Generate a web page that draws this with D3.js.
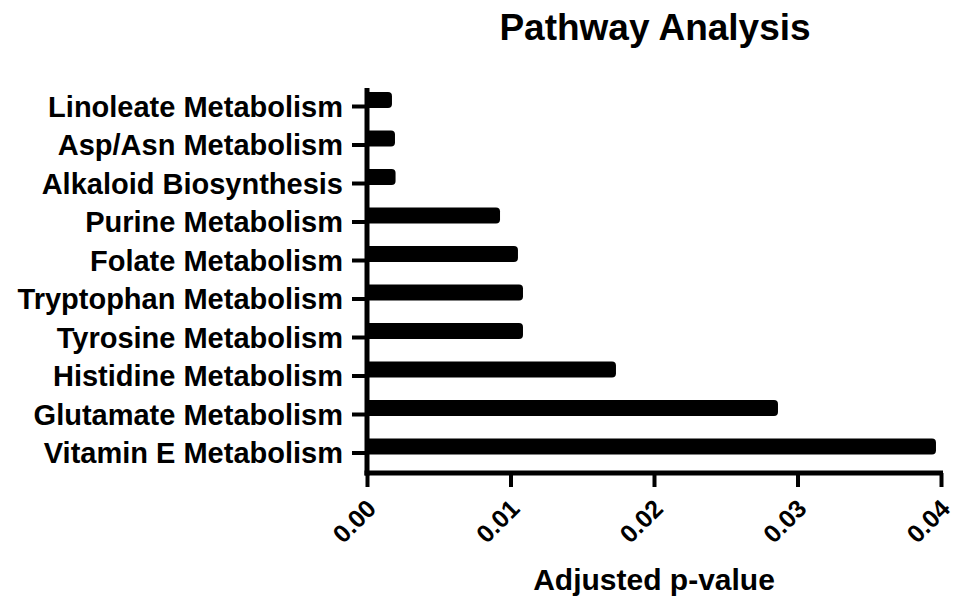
<!DOCTYPE html>
<html>
<head>
<meta charset="utf-8">
<script src="https://cdn.jsdelivr.net/npm/d3@7"></script>
<style>
  body { margin: 0; background: #fff; }
  text { font-family: "Liberation Sans", Arial, sans-serif; font-weight: bold; fill: #000; }
</style>
</head>
<body>
<div id="chart"></div>
<script>
// Data (top to bottom, as drawn)
var pathways = [
    "Linoleate Metabolism",
    "Asp/Asn Metabolism",
    "Alkaloid Biosynthesis",
    "Purine Metabolism",
    "Folate Metabolism",
    "Tryptophan Metabolism",
    "Tyrosine Metabolism",
    "Histidine Metabolism",
    "Glutamate Metabolism",
    "Vitamin E Metabolism"
];
var adjustedP = [0.00174, 0.00195, 0.00199, 0.00927, 0.01052, 0.01087, 0.01087, 0.01735, 0.02864, 0.03965];
var xTicks = [0, 0.01, 0.02, 0.03, 0.04];

var width = 956, height = 599;
var svg = d3.select("#chart")
    .append("svg")
    .attr("width", width)
    .attr("height", height);

// scales
var x = d3.scaleLinear().domain([0, 0.04]).range([367, 941]);
var y = d3.scalePoint().domain(pathways).range([106, 452.5]);
var axisY = 473;   // position of the x axis line
var barH = 16;
var barShift = 14; // bars sit just above their tick

// bars, rounded on the right end
var r = 4;
svg.append("g").selectAll("path")
    .data(pathways)
    .enter()
    .append("path")
    .attr("fill", "#000")
    .attr("d", function (d, i) {
        var x0 = x(0), x1 = x(adjustedP[i]);
        var y0 = y(d) - barShift, y1 = y0 + barH;
        return "M" + x0 + "," + y0 +
            "H" + (x1 - r) +
            "Q" + x1 + "," + y0 + " " + x1 + "," + (y0 + r) +
            "V" + (y1 - r) +
            "Q" + x1 + "," + y1 + " " + (x1 - r) + "," + y1 +
            "H" + x0 + "Z";
    });

// y axis ticks + labels
var yAxis = svg.append("g")
    .attr("transform", "translate(" + x(0) + ",0)")
    .call(d3.axisLeft(y).tickSize(15).tickPadding(9));
yAxis.select(".domain").remove();
yAxis.selectAll("line").attr("stroke", "#000").attr("stroke-width", 4);
yAxis.selectAll("text")
    .attr("fill", "#000")
    .style("font-size", "29px")
    .attr("dy", "0.36em");

// x axis ticks + rotated labels
var xAxis = svg.append("g")
    .attr("transform", "translate(0," + axisY + ")")
    .call(d3.axisBottom(x).tickValues(xTicks).tickFormat(d3.format(".2f")).tickSize(14));
xAxis.select(".domain").remove();
xAxis.selectAll("line").attr("stroke", "#000").attr("stroke-width", 4);
xAxis.selectAll("text")
    .attr("fill", "#000")
    .style("font-size", "25px")
    .attr("text-anchor", "end")
    .attr("x", null).attr("y", null).attr("dy", "0.35em")
    .attr("transform", "translate(4,31) rotate(-45)");

// axis lines
svg.append("line")
    .attr("x1", x(0)).attr("x2", x(0))
    .attr("y1", 88).attr("y2", axisY + 2.5)
    .attr("stroke", "#000").attr("stroke-width", 5);
svg.append("line")
    .attr("x1", x(0) - 2.5).attr("x2", x(0.04) + 2)
    .attr("y1", axisY).attr("y2", axisY)
    .attr("stroke", "#000").attr("stroke-width", 5);

// titles
svg.append("text")
    .attr("x", 655).attr("y", 40)
    .attr("text-anchor", "middle")
    .style("font-size", "37px")
    .text("Pathway Analysis");

svg.append("text")
    .attr("x", (x(0) + x(0.04)) / 2).attr("y", 590)
    .attr("text-anchor", "middle")
    .style("font-size", "30px")
    .text("Adjusted p-value");
</script>
</body>
</html>
